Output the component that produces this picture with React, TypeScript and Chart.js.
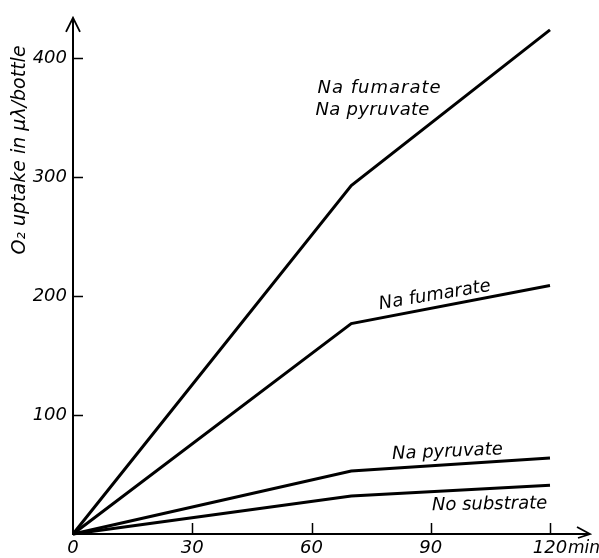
import React, { useEffect, useRef } from "react";
import { Chart, registerables } from "chart.js";

Chart.register(...registerables);

// Time points (min) where each respiration curve is sampled
const minutes = [0, 70, 120];

// O2 uptake in µλ per bottle
const fumaratePyruvate = [0, 293, 424];
const fumarate = [0, 177, 209];
const pyruvate = [0, 53, 64];
const noSubstrate = [0, 32, 41];

// Axis ticks
const xTicks = [0, 30, 60, 90, 120];
const yTicks = [100, 200, 300, 400];

const yTitle = "O\u2082 uptake in \u03bc\u03bb/bottle";
const xUnit = "min";

// Curve labels, anchored in data coordinates (minutes, µλ)
const curveLabels = [
  { text: "Na fumarate", x: 61.5, y: 371, angle: 0, spacing: 1 },
  { text: "Na pyruvate", x: 61.0, y: 352, angle: 0, spacing: 0.3 },
  { text: "Na fumarate", x: 77.2, y: 189, angle: -9.5, spacing: 0 },
  { text: "Na pyruvate", x: 80.3, y: 63, angle: -2.5, spacing: 0 },
  { text: "No substrate", x: 90.3, y: 20, angle: -1, spacing: 0 },
];

const FAMILY = "'DejaVu Sans', sans-serif";
const labelFont = `italic 18px ${FAMILY}`;
const unitFont = `italic 17px ${FAMILY}`;
const titleFont = `italic 19px ${FAMILY}`;

const toPoints = (vals: number[]) => vals.map((v, i) => ({ x: minutes[i], y: v }));

const axesPlugin = {
  id: "handAxes",
  afterDraw(chart: any) {
    const ctx: any = chart.ctx;
    const xs = chart.scales.x;
    const ys = chart.scales.y;
    const x0 = xs.getPixelForValue(0);
    const y0 = ys.getPixelForValue(0);
    const top = chart.chartArea.top + 1;
    const right = chart.chartArea.right + 40;

    ctx.save();
    ctx.strokeStyle = "#000";
    ctx.fillStyle = "#000";
    ctx.lineCap = "butt";

    // axis lines
    ctx.lineWidth = 2;
    ctx.beginPath();
    ctx.moveTo(x0, y0 + 1);
    ctx.lineTo(x0, top);
    ctx.moveTo(x0 - 1, y0);
    ctx.lineTo(right, y0);
    ctx.stroke();

    // arrow heads
    ctx.lineWidth = 1.8;
    ctx.beginPath();
    ctx.moveTo(x0 - 7, top + 14);
    ctx.lineTo(x0, top);
    ctx.lineTo(x0 + 7, top + 14);
    ctx.moveTo(right - 13, y0 - 7);
    ctx.lineTo(right, y0);
    ctx.lineTo(right - 12, y0 + 4);
    ctx.stroke();

    // inward tick marks
    ctx.lineWidth = 1.5;
    ctx.beginPath();
    yTicks.forEach((v) => {
      const py = Math.round(ys.getPixelForValue(v)) + 0.5;
      ctx.moveTo(x0, py);
      ctx.lineTo(x0 + 10, py);
    });
    xTicks.forEach((v) => {
      if (v === 0) return;
      const px = Math.round(xs.getPixelForValue(v)) + 0.5;
      ctx.moveTo(px, y0);
      ctx.lineTo(px, y0 - 11);
    });
    ctx.stroke();

    // unit after the last x tick label
    ctx.font = unitFont;
    ctx.textAlign = "left";
    ctx.textBaseline = "alphabetic";
    ctx.fillText(xUnit, xs.getPixelForValue(120) + 18, y0 + 19);

    // y axis title
    ctx.save();
    ctx.font = titleFont;
    ctx.translate(20, 150);
    ctx.rotate(-Math.PI / 2);
    ctx.textAlign = "center";
    ctx.textBaseline = "middle";
    ctx.fillText(yTitle, 0, 0);
    ctx.restore();

    // curve labels
    curveLabels.forEach((l) => {
      ctx.save();
      ctx.font = labelFont;
      ctx.letterSpacing = `${l.spacing}px`;
      ctx.translate(xs.getPixelForValue(l.x), ys.getPixelForValue(l.y));
      ctx.rotate((l.angle * Math.PI) / 180);
      ctx.textAlign = "left";
      ctx.textBaseline = "alphabetic";
      ctx.fillText(l.text, 0, 0);
      ctx.restore();
    });

    ctx.restore();
  },
};

export default function App() {
  const canvasRef = useRef<HTMLCanvasElement | null>(null);

  useEffect(() => {
    if (!canvasRef.current) return;
    const line = (label: string, vals: number[]) => ({
      label,
      data: toPoints(vals),
      borderColor: "#000",
      backgroundColor: "#000",
      borderWidth: 3,
      pointRadius: 0,
      tension: 0,
      fill: false,
      clip: false as any,
    });
    const tickFont = { family: FAMILY, size: 18, style: "italic" as const };
    const chart = new Chart(canvasRef.current, {
      type: "line",
      data: {
        datasets: [
          line("Na fumarate + Na pyruvate", fumaratePyruvate),
          line("Na fumarate", fumarate),
          line("Na pyruvate", pyruvate),
          line("No substrate", noSubstrate),
        ],
      },
      options: {
        responsive: false,
        animation: false,
        layout: { padding: { left: 0, right: 49, top: 11, bottom: 0 } },
        plugins: {
          legend: { display: false },
          tooltip: { enabled: false },
        },
        scales: {
          x: {
            type: "linear",
            min: 0,
            max: 120,
            grid: { display: false, drawTicks: false },
            border: { display: false },
            ticks: {
              color: "#000",
              font: tickFont,
              padding: 4,
              autoSkip: false,
              maxRotation: 0,
            },
            afterBuildTicks: (s: any) => {
              s.ticks = xTicks.map((v) => ({ value: v }));
            },
            afterFit: (s: any) => {
              s.height = 24;
            },
          },
          y: {
            type: "linear",
            min: 0,
            max: 435,
            grid: { display: false, drawTicks: false },
            border: { display: false },
            ticks: {
              color: "#000",
              font: tickFont,
              padding: 6,
              autoSkip: false,
            },
            afterBuildTicks: (s: any) => {
              s.ticks = yTicks.map((v) => ({ value: v }));
            },
            afterFit: (s: any) => {
              s.width = 73;
            },
          },
        },
      },
      plugins: [axesPlugin],
    });
    return () => chart.destroy();
  }, []);

  return (
    <div style={{ position: "fixed", left: 0, top: 0, width: 599, height: 558, background: "#fff" }}>
      <canvas ref={canvasRef} width={599} height={558} style={{ display: "block" }} />
    </div>
  );
}
